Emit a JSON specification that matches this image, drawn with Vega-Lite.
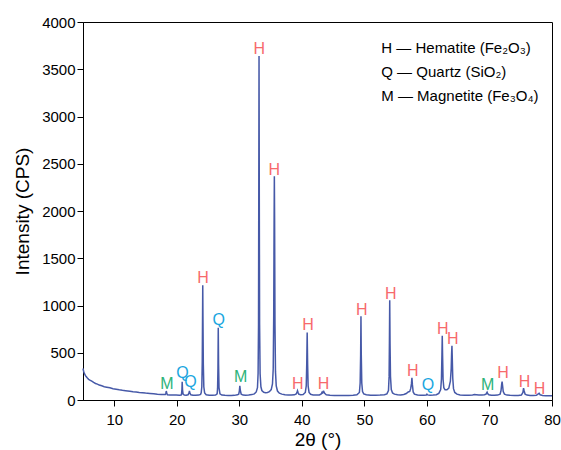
{
  "$schema": "https://vega.github.io/schema/vega-lite/v6.json",
  "width": 469,
  "height": 378,
  "autosize": "none",
  "padding": {"left": 83, "top": 22, "right": 9, "bottom": 50},
  "config": {
    "view": {"stroke": "black", "strokeWidth": 1},
    "font": "Liberation Sans",
    "axis": {
      "grid": false,
      "domainColor": "black",
      "tickColor": "black",
      "labelColor": "black",
      "titleColor": "black",
      "labelFont": "Liberation Sans",
      "titleFont": "Liberation Sans",
      "labelFontSize": 15,
      "titleFontSize": 19,
      "titleFontWeight": "normal",
      "domainWidth": 1,
      "tickWidth": 1
    }
  },
  "datasets": {
    "pattern": [
      {"x":5.0,"y":333},{"x":5.1,"y":305},{"x":5.2,"y":285},{"x":5.35,"y":262},{"x":5.5,"y":248},{"x":5.7,"y":232},{"x":5.9,"y":219},{"x":6.1,"y":210},{"x":6.4,"y":199},{"x":6.7,"y":186},{"x":7.0,"y":175},{"x":7.3,"y":168},{"x":7.6,"y":158},{"x":8.0,"y":150},{"x":8.4,"y":141},{"x":8.8,"y":136},{"x":9.3,"y":129},{"x":9.8,"y":120},{"x":10.3,"y":114},{"x":10.8,"y":108},{"x":11.3,"y":103},{"x":11.8,"y":99},{"x":12.5,"y":93},{"x":13.0,"y":88},{"x":13.5,"y":84},{"x":14.0,"y":80},{"x":14.5,"y":77},{"x":15.0,"y":73},{"x":15.7,"y":69},{"x":16.3,"y":65},{"x":16.9,"y":61},{"x":17.5,"y":59},{"x":18.0,"y":57},
      {"x":18.15,"y":58},{"x":18.25,"y":72},{"x":18.32,"y":95},{"x":18.4,"y":70},{"x":18.5,"y":56},{"x":18.9,"y":54},{"x":19.4,"y":53},{"x":19.9,"y":52},{"x":20.4,"y":51},{"x":20.7,"y":53},
      {"x":20.76,"y":65},{"x":20.82,"y":110},{"x":20.86,"y":194},{"x":20.92,"y":105},{"x":21.0,"y":62},{"x":21.2,"y":52},{"x":21.5,"y":50},
      {"x":21.8,"y":55},{"x":21.95,"y":75},{"x":22.02,"y":95},{"x":22.1,"y":72},{"x":22.25,"y":55},{"x":22.6,"y":50},{"x":23.0,"y":50},{"x":23.5,"y":52},{"x":23.8,"y":60},
      {"x":23.9,"y":75},{"x":24.0,"y":140},{"x":24.07,"y":400},{"x":24.12,"y":900},{"x":24.15,"y":1215},{"x":24.18,"y":900},{"x":24.24,"y":380},{"x":24.32,"y":140},{"x":24.45,"y":75},{"x":24.7,"y":55},{"x":25.2,"y":50},{"x":25.7,"y":50},{"x":26.2,"y":52},{"x":26.45,"y":65},
      {"x":26.52,"y":120},{"x":26.58,"y":330},{"x":26.63,"y":765},{"x":26.68,"y":380},{"x":26.75,"y":130},{"x":26.9,"y":65},{"x":27.2,"y":52},{"x":27.7,"y":49},{"x":28.2,"y":48},{"x":28.7,"y":48},{"x":29.2,"y":49},{"x":29.7,"y":55},
      {"x":29.9,"y":62},{"x":30.0,"y":95},{"x":30.08,"y":150},{"x":30.16,"y":100},{"x":30.3,"y":62},{"x":30.6,"y":52},{"x":31.0,"y":50},{"x":31.5,"y":52},{"x":32.0,"y":57},{"x":32.4,"y":65},{"x":32.7,"y":85},
      {"x":32.9,"y":130},{"x":33.0,"y":280},{"x":33.07,"y":800},{"x":33.11,"y":2200},{"x":33.15,"y":3640},{"x":33.19,"y":2200},{"x":33.24,"y":800},{"x":33.32,"y":280},{"x":33.45,"y":140},{"x":33.6,"y":100},{"x":33.9,"y":82},{"x":34.2,"y":78},{"x":34.5,"y":80},{"x":34.8,"y":88},{"x":35.1,"y":110},{"x":35.3,"y":170},
      {"x":35.42,"y":330},{"x":35.5,"y":900},{"x":35.56,"y":1900},{"x":35.6,"y":2368},{"x":35.64,"y":1900},{"x":35.7,"y":800},{"x":35.78,"y":300},{"x":35.9,"y":150},{"x":36.1,"y":95},{"x":36.4,"y":72},{"x":36.8,"y":62},{"x":37.3,"y":55},{"x":37.8,"y":52},{"x":38.3,"y":52},{"x":38.8,"y":55},{"x":39.1,"y":65},
      {"x":39.22,"y":80},{"x":39.3,"y":98},{"x":39.38,"y":82},{"x":39.5,"y":62},{"x":39.8,"y":55},{"x":40.2,"y":58},{"x":40.55,"y":80},
      {"x":40.7,"y":150},{"x":40.78,"y":380},{"x":40.85,"y":715},{"x":40.92,"y":380},{"x":41.0,"y":150},{"x":41.15,"y":80},{"x":41.4,"y":60},{"x":41.8,"y":54},{"x":42.3,"y":52},{"x":42.8,"y":54},{"x":43.1,"y":65},{"x":43.25,"y":85},{"x":43.35,"y":75},{"x":43.5,"y":90},{"x":43.65,"y":70},{"x":43.9,"y":56},{"x":44.5,"y":50},{"x":45.2,"y":48},{"x":46.0,"y":47},{"x":46.8,"y":48},{"x":47.5,"y":48},{"x":48.2,"y":50},{"x":48.8,"y":55},{"x":49.2,"y":80},
      {"x":49.32,"y":180},{"x":49.4,"y":480},{"x":49.45,"y":885},{"x":49.5,"y":480},{"x":49.58,"y":180},{"x":49.7,"y":90},{"x":49.9,"y":65},{"x":50.3,"y":55},{"x":51.0,"y":51},{"x":51.8,"y":50},{"x":52.5,"y":52},{"x":53.2,"y":56},{"x":53.6,"y":65},{"x":53.85,"y":100},
      {"x":53.95,"y":250},{"x":54.0,"y":600},{"x":54.05,"y":1055},{"x":54.1,"y":600},{"x":54.17,"y":250},{"x":54.3,"y":110},{"x":54.5,"y":75},{"x":54.8,"y":62},{"x":55.3,"y":56},{"x":55.8,"y":54},{"x":56.3,"y":58},{"x":56.7,"y":68},{"x":57.0,"y":85},{"x":57.25,"y":90},{"x":57.4,"y":120},
      {"x":57.52,"y":170},{"x":57.6,"y":235},{"x":57.68,"y":160},{"x":57.8,"y":85},{"x":58.0,"y":62},{"x":58.5,"y":52},{"x":59.0,"y":50},{"x":59.5,"y":50},{"x":59.9,"y":53},
      {"x":60.0,"y":62},{"x":60.1,"y":54},{"x":60.5,"y":50},{"x":61.0,"y":52},{"x":61.5,"y":56},{"x":61.9,"y":70},{"x":62.2,"y":110},
      {"x":62.32,"y":220},{"x":62.4,"y":480},{"x":62.45,"y":680},{"x":62.5,"y":480},{"x":62.58,"y":220},{"x":62.7,"y":130},{"x":62.9,"y":108},{"x":63.2,"y":108},{"x":63.5,"y":125},{"x":63.75,"y":200},
      {"x":63.88,"y":330},{"x":63.95,"y":500},{"x":64.0,"y":575},{"x":64.05,"y":450},{"x":64.13,"y":230},{"x":64.25,"y":120},{"x":64.45,"y":80},{"x":64.8,"y":62},{"x":65.3,"y":54},{"x":66.0,"y":50},{"x":66.7,"y":50},{"x":67.3,"y":52},{"x":67.6,"y":57},{"x":67.9,"y":55},{"x":68.3,"y":52},{"x":68.8,"y":52},{"x":69.2,"y":55},{"x":69.45,"y":62},
      {"x":69.55,"y":75},{"x":69.62,"y":82},{"x":69.7,"y":68},{"x":69.9,"y":55},{"x":70.3,"y":50},{"x":70.8,"y":50},{"x":71.3,"y":52},{"x":71.7,"y":62},{"x":71.85,"y":100},
      {"x":71.95,"y":165},{"x":72.02,"y":195},{"x":72.1,"y":150},{"x":72.2,"y":90},{"x":72.4,"y":62},{"x":72.8,"y":52},{"x":73.3,"y":49},{"x":74.0,"y":48},{"x":74.6,"y":48},{"x":75.1,"y":52},{"x":75.35,"y":80},
      {"x":75.45,"y":125},{"x":75.55,"y":95},{"x":75.7,"y":62},{"x":76.0,"y":52},{"x":76.5,"y":48},{"x":77.0,"y":47},{"x":77.5,"y":50},{"x":77.75,"y":62},
      {"x":77.85,"y":68},{"x":77.95,"y":72},{"x":78.1,"y":55},{"x":78.5,"y":48},{"x":79.0,"y":46},{"x":79.5,"y":45},{"x":80.0,"y":45}
    ],
    "labels": [
      {"t":"M","x":18.4,"y":104},
      {"t":"Q","x":20.9,"y":217},
      {"t":"Q","x":22.2,"y":122},
      {"t":"H","x":24.2,"y":1232},
      {"t":"Q","x":26.7,"y":788},
      {"t":"M","x":30.2,"y":175},
      {"t":"H","x":33.2,"y":3655},
      {"t":"H","x":35.6,"y":2375},
      {"t":"H","x":39.35,"y":111},
      {"t":"H","x":41.0,"y":725},
      {"t":"H","x":43.45,"y":104},
      {"t":"H","x":49.6,"y":887},
      {"t":"H","x":54.2,"y":1056},
      {"t":"H","x":57.75,"y":245},
      {"t":"Q","x":60.15,"y":90},
      {"t":"H","x":62.55,"y":693},
      {"t":"H","x":64.15,"y":587},
      {"t":"M","x":69.7,"y":93},
      {"t":"H","x":72.15,"y":217},
      {"t":"H","x":75.6,"y":129},
      {"t":"H","x":78.0,"y":58}
    ],
    "legend": [
      {"t":"H — Hematite (Fe₂O₃)","x":52.7,"y":3677},
      {"t":"Q — Quartz (SiO₂)","x":52.7,"y":3423},
      {"t":"M — Magnetite (Fe₃O₄)","x":52.7,"y":3169}
    ]
  },
  "layer": [
    {
      "data": {"name": "pattern"},
      "mark": {"type": "line", "color": "#4659a8", "strokeWidth": 1.5},
      "encoding": {
        "x": {"field": "x", "type": "quantitative",
              "scale": {"domain": [5, 80], "nice": false, "zero": false},
              "axis": {"values": [10,20,30,40,50,60,70,80], "format": "d",
                       "labelFlush": false,
                       "tickSize": 6,
                       "title": "2θ (°)", "orient": "bottom", "labelPadding": 6, "titlePadding": 3}},
        "y": {"field": "y", "type": "quantitative",
              "scale": {"domain": [0, 4000], "nice": false},
              "axis": {"values": [0,250,500,750,1000,1250,1500,1750,2000,2250,2500,2750,3000,3250,3500,3750,4000], "format": "d",
                       "labelExpr": "datum.value % 500 === 0 ? datum.label : ''",
                       "labelOverlap": false,
                       "tickSize": {"condition": {"test": "datum.value % 500 === 0", "value": 6}, "value": 3.5},
                       "title": "Intensity (CPS)", "orient": "left", "labelPadding": 2, "titlePadding": 9}}
      }
    },
    {
      "data": {"name": "labels"},
      "mark": {"type": "text", "fontSize": 16, "baseline": "alphabetic", "align": "center", "dy": -1, "font": "Liberation Sans"},
      "encoding": {
        "x": {"field": "x", "type": "quantitative"},
        "y": {"field": "y", "type": "quantitative"},
        "text": {"field": "t"},
        "color": {"field": "t", "type": "nominal", "scale": {"domain": ["H","Q","M"], "range": ["#f76a6c","#1aa6e0","#2db37a"]}, "legend": null}
      }
    },
    {
      "data": {"name": "legend"},
      "mark": {"type": "text", "fontSize": 15, "baseline": "alphabetic", "align": "left", "color": "black", "font": "Liberation Sans"},
      "encoding": {
        "x": {"field": "x", "type": "quantitative"},
        "y": {"field": "y", "type": "quantitative"},
        "text": {"field": "t"}
      }
    }
  ]
}
